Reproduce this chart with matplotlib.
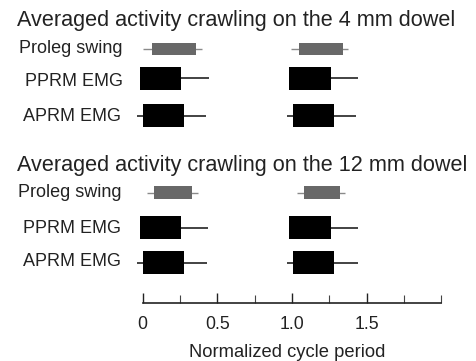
import numpy as np
import matplotlib.pyplot as plt
from matplotlib.ticker import MultipleLocator

plt.rcParams['font.family'] = ['Liberation Sans', 'DejaVu Sans']

# rows of each panel
rows = ["Proleg swing", "PPRM EMG", "APRM EMG"]
titles = ["Averaged activity crawling on the 4 mm dowel",
          "Averaged activity crawling on the 12 mm dowel"]

# 4 mm dowel: [cycle 1, cycle 2], each in row order
start_4 = [[0.060, -0.018, 0.004], [1.047, 0.982, 1.005]]
end_4 = [[0.355, 0.257, 0.279], [1.344, 1.261, 1.282]]
lo_4 = [[0.002, -0.018, -0.040], [0.993, 0.982, 0.964]]
hi_4 = [[0.395, 0.444, 0.424], [1.375, 1.444, 1.429]]

# 12 mm dowel
start_12 = [[0.078, -0.018, 0.004], [1.080, 0.980, 1.005]]
end_12 = [[0.332, 0.255, 0.279], [1.321, 1.261, 1.282]]
lo_12 = [[0.031, -0.018, -0.040], [1.035, 0.980, 0.968]]
hi_12 = [[0.372, 0.439, 0.429], [1.353, 1.440, 1.440]]

xticks = [0, 0.5, 1.0, 1.5]
xticklabels = ["0", "0.5", "1.0", "1.5"]

W, H = 476, 361
fig = plt.figure(figsize=(W/100, H/100), dpi=100)

# axis geometry in pixels
x0_px, unit_px, axis_y = 142.7, 149.3, 303.3

# main drawing axes: x in cycle units, y in pixels from top
ax = fig.add_axes([0, 0, 1, 1])
ax.set_xlim(-x0_px/unit_px, (W - x0_px)/unit_px)
ax.set_ylim(H, 0)
ax.axis('off')

row_y = [[49, 78, 115.5], [192.5, 227.5, 262.7]]
bar_h = [12.5, 23, 23]
bar_col = ["#686868", "black", "black"]
wh_col = ["#8a8a8a", "#222222", "#222222"]
wh_lw = [1.0, 1.2, 1.2]

panels = [(start_4, end_4, lo_4, hi_4), (start_12, end_12, lo_12, hi_12)]
for p, (st, en, lo, hi) in enumerate(panels):
    for c in range(2):
        for r in range(3):
            y = row_y[p][r]
            ax.hlines(y, lo[c][r], hi[c][r], color=wh_col[r], lw=wh_lw[r], zorder=1)
            ax.barh(y, en[c][r] - st[c][r], left=st[c][r], height=bar_h[r],
                    color=bar_col[r], zorder=2)

def fx(px):
    return px / W

def fy(py):
    return 1 - py / H

# titles and row labels
fig.text(fx(17), fy(26), titles[0], fontsize=15.6, va='baseline', color='#222222')
fig.text(fx(16.7), fy(170.7), titles[1], fontsize=15.6, va='baseline', color='#222222')

label_pos = [[(19, 53), (25, 86), (22.7, 121)],
             [(18, 197.3), (22.7, 233), (22.7, 266)]]
for p in range(2):
    for r in range(3):
        x, y = label_pos[p][r]
        fig.text(fx(x), fy(y), rows[r], fontsize=13, va='baseline', color='#222222')

# bottom axis
axb = fig.add_axes([fx(x0_px), fy(axis_y), 2.0*unit_px/W, 0.001])
axb.set_xlim(0, 2.0)
axb.set_yticks([])
for s in ['top', 'left', 'right']:
    axb.spines[s].set_visible(False)
axb.spines['bottom'].set_linewidth(1.2)
axb.spines['bottom'].set_color('#222222')
axb.set_xticks(xticks)
axb.set_xticklabels(xticklabels, fontsize=12.7, color='#222222')
axb.xaxis.set_minor_locator(MultipleLocator(0.25))
axb.tick_params(axis='x', which='major', direction='in', length=10.5*0.72,
                width=1.0, pad=9, color='#222222')
axb.tick_params(axis='x', which='minor', direction='in', length=8*0.72,
                width=0.8, color='#444444')
axb.patch.set_visible(False)

fig.text(fx(287.5), fy(357.3), "Normalized cycle period", fontsize=13.2,
         ha='center', va='baseline', color='#222222')

fig.savefig("out.png", dpi=100)
